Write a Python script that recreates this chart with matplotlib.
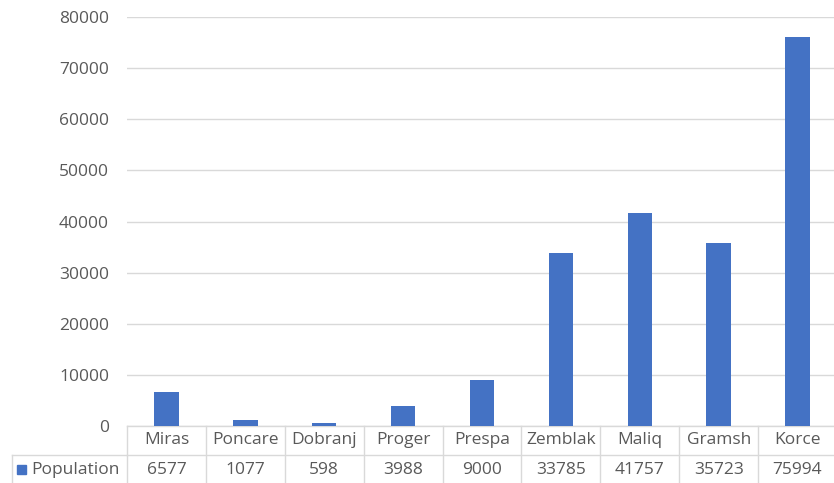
import matplotlib.pyplot as plt
from matplotlib.lines import Line2D
from matplotlib.patches import Rectangle

towns = ['Miras', 'Poncare', 'Dobranj', 'Proger', 'Prespa', 'Zemblak', 'Maliq', 'Gramsh', 'Korce']
population = [6577, 1077, 598, 3988, 9000, 33785, 41757, 35723, 75994]
y_ticks = [0, 10000, 20000, 30000, 40000, 50000, 60000, 70000, 80000]
series_name = 'Population'

bar_color = '#4472C4'
grid_color = '#D9D9D9'
text_color = '#595959'
fs = 12.5

plt.rcParams['font.family'] = ['Open Sans', 'DejaVu Sans']

W, H = 834, 483
fig = plt.figure(figsize=(W / 100, H / 100), dpi=100)
left, right, top, bottom = 127, 837, 17, 426
ax = fig.add_axes([left / W, (H - bottom) / H, (right - left) / W, (bottom - top) / H])

x = range(len(towns))
ax.bar(x, population, width=0.31, color=bar_color, zorder=3)

ax.set_xlim(-0.5, len(towns) - 0.5)
ax.set_ylim(0, 80000)
ax.set_yticks(y_ticks)
ax.set_yticklabels([str(v) for v in y_ticks], fontsize=fs, color=text_color)
ax.tick_params(axis='y', length=0, pad=13)
ax.set_xticks([])
ax.grid(axis='y', color=grid_color, linewidth=1, zorder=0)
for s in ['top', 'right', 'left']:
    ax.spines[s].set_visible(False)
ax.spines['bottom'].set_color(grid_color)
ax.spines['bottom'].set_linewidth(1)

# data table under the plot
plot_h = bottom - top
def ay(py):
    return (bottom - py) / plot_h

tr = ax.get_xaxis_transform()
row_mid = ay(455)
row_bot = ay(483)
head_y = ay(440.5)
val_y = ay(469.5)
lw = 1

for i in range(len(towns) + 1):
    ax.add_line(Line2D([i - 0.5, i - 0.5], [0, row_bot], transform=tr, color=grid_color,
                       lw=lw, clip_on=False))
ax.add_line(Line2D([-0.5, len(towns) - 0.5], [row_mid, row_mid], transform=tr,
                   color=grid_color, lw=lw, clip_on=False))

for i, (name, val) in enumerate(zip(towns, population)):
    ax.text(i, head_y, name, transform=tr, ha='center', va='center', fontsize=fs,
            color=text_color, clip_on=False)
    ax.text(i, val_y, str(val), transform=tr, ha='center', va='center', fontsize=fs,
            color=text_color, clip_on=False)

# series label cell with legend key
fig.add_artist(Line2D([12 / W, left / W], [(H - 455) / H, (H - 455) / H], color=grid_color, lw=lw))
fig.add_artist(Line2D([12 / W, 12 / W], [(H - 455) / H, 0], color=grid_color, lw=lw))
fig.add_artist(Rectangle((17 / W, (H - 474) / H), 9 / W, 9 / H, color=bar_color))
fig.text(31 / W, (H - 469.5) / H, series_name, ha='left', va='center', fontsize=fs,
         color=text_color)

fig.savefig('out.png', dpi=100, facecolor='white')
